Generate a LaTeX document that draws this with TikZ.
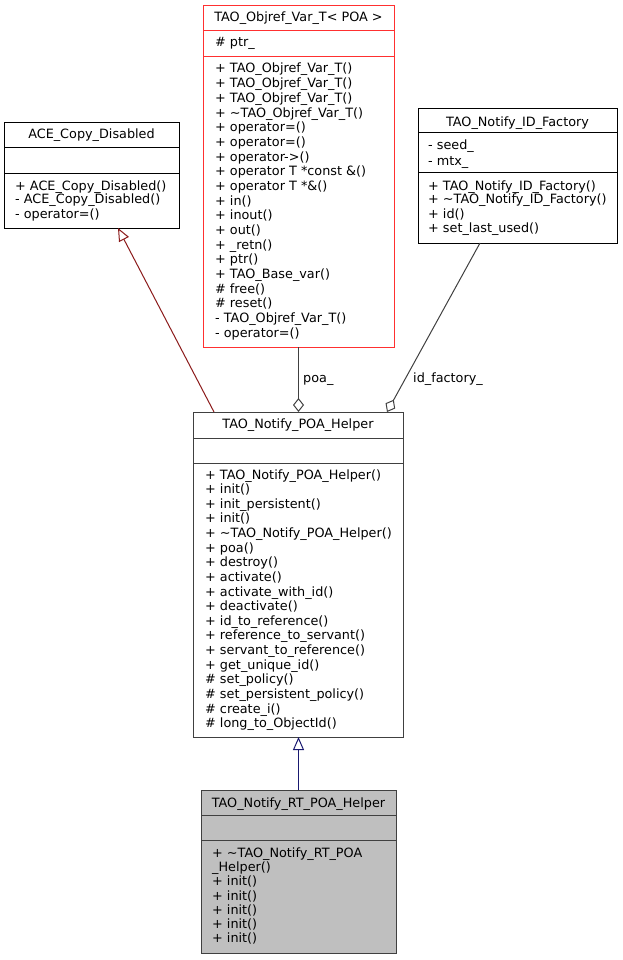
\documentclass[tikz,border=0pt]{standalone}
\usepackage{fontspec}
\setmainfont{DejaVu Sans}
\usetikzlibrary{arrows.meta}
\definecolor{inhred}{HTML}{8B1A1A}
\definecolor{inhblue}{HTML}{191970}
\definecolor{aggrey}{HTML}{404040}
\definecolor{rtfill}{HTML}{BFBFBF}
\definecolor{incred}{HTML}{FF3030}
\begin{document}
\begin{tikzpicture}[x=1pt,y=-1pt,
  classbox/.style={draw, line width=1pt, inner sep=0pt, outer sep=0pt, anchor=north west},
  mem/.style={anchor=base west, inner sep=0pt, font=\fontsize{12.8}{14}\selectfont},
  ttl/.style={anchor=base, inner sep=0pt, font=\fontsize{12.8}{14}\selectfont},
  lbl/.style={anchor=base west, inner sep=0pt, font=\fontsize{12.8}{14}\selectfont},
  divider/.style={line width=1pt},
  inh/.style={line width=1pt, -{Triangle[open, length=13pt, width=11pt]}},
  agg/.style={line width=1pt, draw=aggrey, -{Diamond[open, length=14pt, width=11pt]}}]
\useasboundingbox (0,0) rectangle (623,960);

% ACE_Copy_Disabled
\node[classbox, minimum width=175pt, minimum height=105pt] (ace) at (4,123) {};
\draw[divider] (4,148) -- (179,148);
\draw[divider] (4,174) -- (179,174);
\node[ttl] (ace-t) at (91.5,139) {ACE\_Copy\_Disabled};
\foreach \t [count=\i from 0] in {+ ACE\_Copy\_Disabled(), - ACE\_Copy\_Disabled(), - operator=()}
  \node[mem] (ace-m\i) at (15,190+\i*14) {\t};

% TAO_Objref_Var_T< POA >
\node[classbox, draw=incred, minimum width=191pt, minimum height=341pt] (obj) at (203,6) {};
\draw[divider, incred] (203,31) -- (394,31);
\draw[divider, incred] (203,57) -- (394,57);
\node[ttl] (obj-t) at (298.5,22) {TAO\_Objref\_Var\_T< POA >};
\node[mem] (obj-a0) at (215,47) {\# ptr\_};
\foreach \t [count=\i from 0] in {%
  + TAO\_Objref\_Var\_T(),
  + TAO\_Objref\_Var\_T(),
  + TAO\_Objref\_Var\_T(),
  + \textasciitilde TAO\_Objref\_Var\_T(),
  + operator=(),
  + operator=(),
  + operator->(),
  + operator T *const \&(),
  + operator T *\&(),
  + in(),
  + inout(),
  + out(),
  + \_retn(),
  + ptr(),
  + TAO\_Base\_var(),
  \# free(),
  \# reset(),
  - TAO\_Objref\_Var\_T(),
  - operator=()}
  \node[mem] (obj-m\i) at (215,73+\i*14.67) {\t};

% TAO_Notify_ID_Factory
\node[classbox, minimum width=199pt, minimum height=134pt] (idf) at (418,109) {};
\draw[divider] (418,133) -- (617,133);
\draw[divider] (418,173) -- (617,173);
\node[ttl] (idf-t) at (517.5,127) {TAO\_Notify\_ID\_Factory};
\node[mem] (idf-a0) at (428,150) {- seed\_};
\node[mem] (idf-a1) at (428,165) {- mtx\_};
\foreach \t [count=\i from 0] in {+ TAO\_Notify\_ID\_Factory(), + \textasciitilde TAO\_Notify\_ID\_Factory(), + id(), + set\_last\_used()}
  \node[mem] (idf-m\i) at (428,190+\i*14) {\t};

% TAO_Notify_POA_Helper
\node[classbox, draw=aggrey, minimum width=210pt, minimum height=325pt] (poa) at (193,412) {};
\draw[divider, aggrey] (193,438) -- (403,438);
\draw[divider, aggrey] (193,463) -- (403,463);
\node[ttl] (poa-t) at (298,428) {TAO\_Notify\_POA\_Helper};
\foreach \t [count=\i from 0] in {%
  + TAO\_Notify\_POA\_Helper(),
  + init(),
  + init\_persistent(),
  + init(),
  + \textasciitilde TAO\_Notify\_POA\_Helper(),
  + poa(),
  + destroy(),
  + activate(),
  + activate\_with\_id(),
  + deactivate(),
  + id\_to\_reference(),
  + reference\_to\_servant(),
  + servant\_to\_reference(),
  + get\_unique\_id(),
  \# set\_policy(),
  \# set\_persistent\_policy(),
  \# create\_i(),
  \# long\_to\_ObjectId()}
  \node[mem] (poa-m\i) at (205,479+\i*14.63) {\t};

% TAO_Notify_RT_POA_Helper
\node[classbox, draw=aggrey, fill=rtfill, minimum width=195pt, minimum height=163pt] (rt) at (201,790) {};
\draw[divider, aggrey] (201,815) -- (396,815);
\draw[divider, aggrey] (201,840) -- (396,840);
\node[ttl] (rt-t) at (298.5,807) {TAO\_Notify\_RT\_POA\_Helper};
\foreach \t [count=\i from 0] in {+ \textasciitilde TAO\_Notify\_RT\_POA, \_Helper(), + init(), + init(), + init(), + init(), + init()}
  \node[mem] (rt-m\i) at (212,857+\i*14.33) {\t};

% connectors
\draw[inh, draw=inhred] ([xshift=21pt]poa.north west) -- ([xshift=114pt]ace.south west);
\draw[agg] (obj.south) -- (obj.south |- poa.north);
\node[lbl] (poa-lbl) at (303,382) {poa\_};
\draw[agg] ([xshift=62pt]idf.south west) -- ([xshift=194pt]poa.north west);
\node[lbl] (idf-lbl) at (413,382) {id\_factory\_};
\draw[inh, draw=inhblue] (rt.north) -- (rt.north |- poa.south);
\end{tikzpicture}
\end{document}
